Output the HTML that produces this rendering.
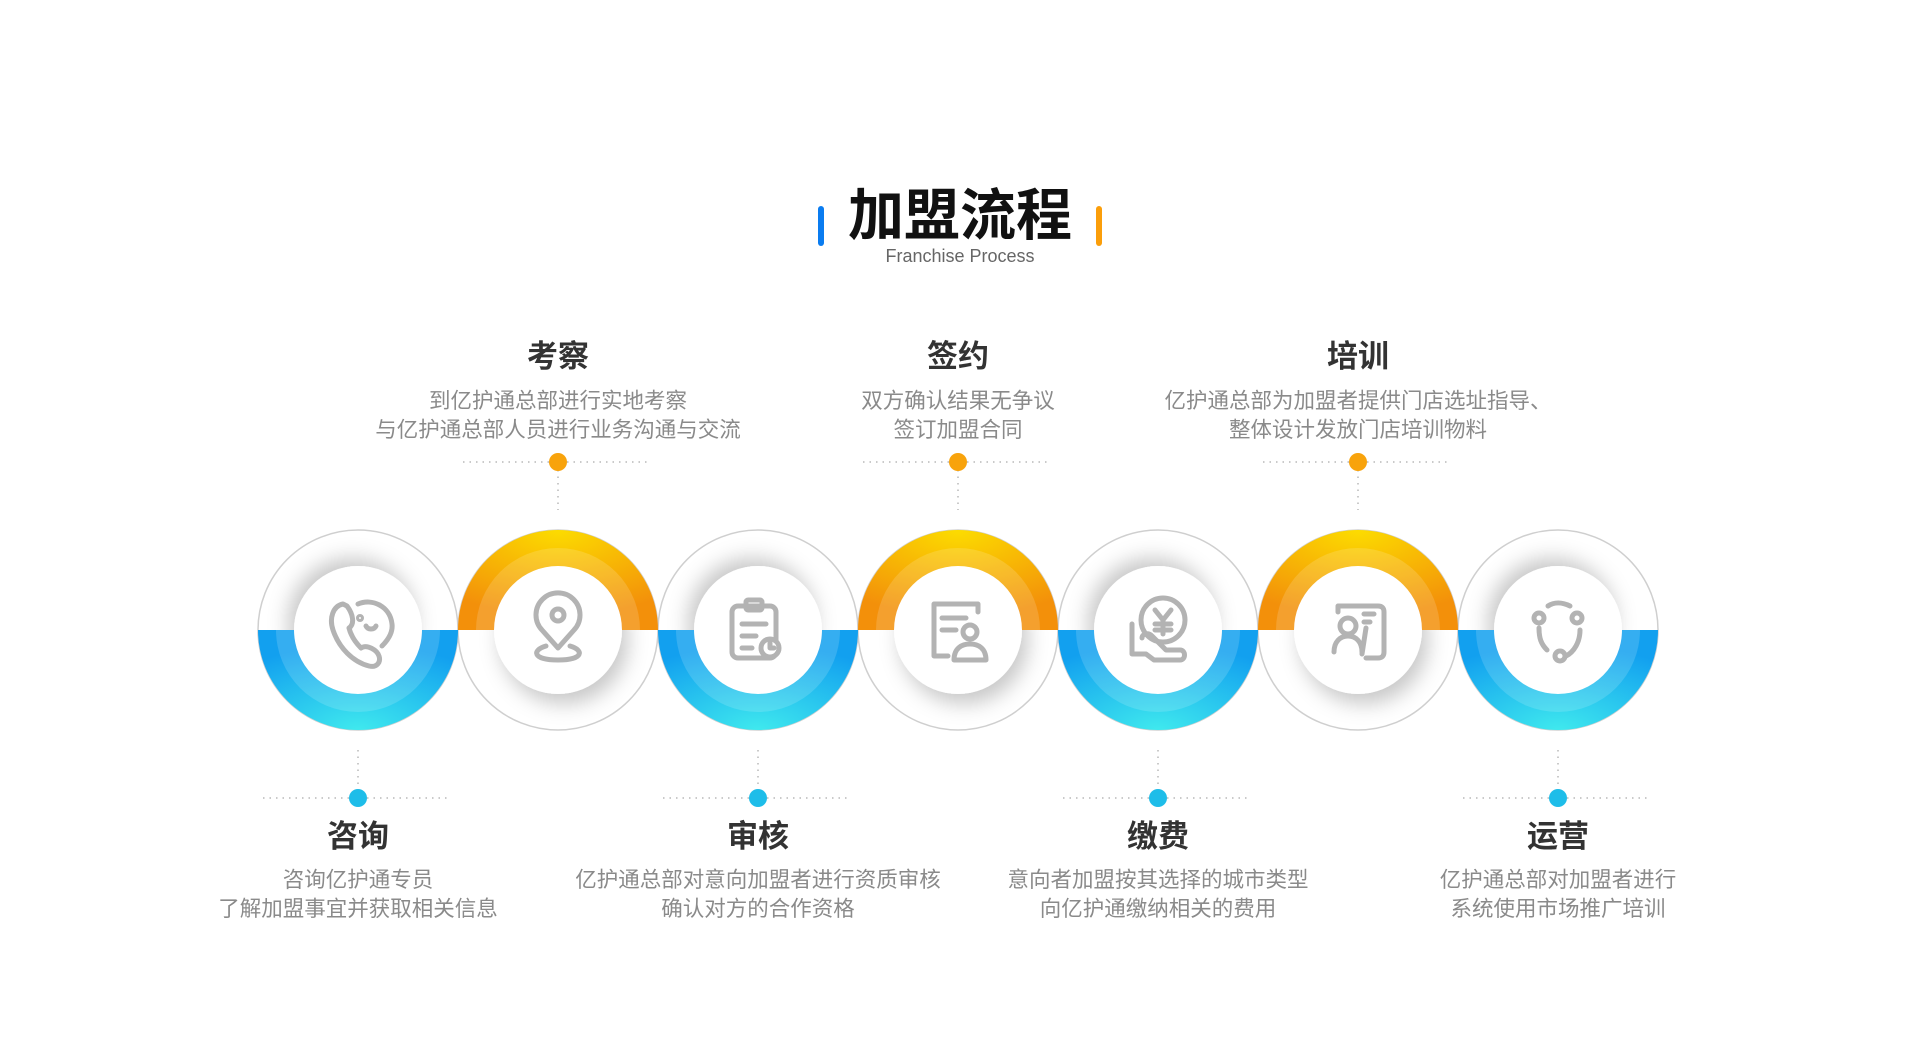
<!DOCTYPE html>
<html><head><meta charset="utf-8"><style>
html,body{margin:0;padding:0;background:#fff;width:1920px;height:1039px;overflow:hidden}
svg{display:block}
text{font-family:"Liberation Sans","Noto Sans CJK SC",sans-serif}
</style></head><body>
<svg width="1920" height="1039" viewBox="0 0 1920 1039">
<defs>
<radialGradient id="gb" cx="0.5" cy="1" r="0.85"><stop offset="0" stop-color="#3fe9ee"/><stop offset="1" stop-color="#12a0ef"/></radialGradient>
<radialGradient id="go" cx="0.5" cy="0" r="0.85"><stop offset="0" stop-color="#fcdc00"/><stop offset="1" stop-color="#f3900a"/></radialGradient>
<filter id="sb" x="-50%" y="-50%" width="200%" height="200%"><feDropShadow dx="-6" dy="-8" stdDeviation="10" flood-color="#000" flood-opacity="0.22"/></filter>
<filter id="so" x="-50%" y="-50%" width="200%" height="200%"><feDropShadow dx="6" dy="10" stdDeviation="10" flood-color="#000" flood-opacity="0.22"/></filter>
<g id="lower"><path d="M-100,0 A100,100 0 0 0 100,0 L64,0 A64,64 0 0 1 -64,0 Z" fill="url(#gb)"/><path d="M-82,0 A82,82 0 0 0 82,0 L64,0 A64,64 0 0 1 -64,0 Z" fill="#fff" opacity="0.15"/></g>
<g id="upper"><path d="M-100,0 A100,100 0 0 1 100,0 L64,0 A64,64 0 0 0 -64,0 Z" fill="url(#go)"/><path d="M-82,0 A82,82 0 0 1 82,0 L64,0 A64,64 0 0 0 -64,0 Z" fill="#fff" opacity="0.15"/></g>
</defs>
<rect x="818" y="206" width="6" height="40" rx="3" fill="#0a7cf0"/>
<rect x="1096" y="206" width="6" height="40" rx="3" fill="#fb9e0a"/>
<text x="960" y="235" font-size="56" font-weight="bold" text-anchor="middle" fill="#111">加盟流程</text>
<text x="960" y="262" font-size="18" text-anchor="middle" fill="#666">Franchise Process</text>

<g stroke="#cfcfcf" stroke-width="1.5" fill="#fff">
<circle cx="358" cy="630" r="100"/><circle cx="558" cy="630" r="100"/><circle cx="758" cy="630" r="100"/><circle cx="958" cy="630" r="100"/><circle cx="1158" cy="630" r="100"/><circle cx="1358" cy="630" r="100"/><circle cx="1558" cy="630" r="100"/>
</g>
<g fill="#fff">
<circle cx="358" cy="630" r="64" filter="url(#sb)"/><circle cx="758" cy="630" r="64" filter="url(#sb)"/><circle cx="1158" cy="630" r="64" filter="url(#sb)"/><circle cx="1558" cy="630" r="64" filter="url(#sb)"/>
<circle cx="558" cy="630" r="64" filter="url(#so)"/><circle cx="958" cy="630" r="64" filter="url(#so)"/><circle cx="1358" cy="630" r="64" filter="url(#so)"/>
</g>
<use href="#lower" x="358" y="630"/><use href="#lower" x="758" y="630"/><use href="#lower" x="1158" y="630"/><use href="#lower" x="1558" y="630"/>
<use href="#upper" x="558" y="630"/><use href="#upper" x="958" y="630"/><use href="#upper" x="1358" y="630"/>

<g fill="none" stroke="#b3b3b3" stroke-width="5" stroke-linecap="round" stroke-linejoin="round">
<path d="M343,604 c-10,2 -14,14 -10,26 c6,18 20,32 36,36 c8,2 12,-4 10,-10 c-2,-6 -12,-12 -18,-8 c-6,-6 -10,-12 -12,-20 c6,-4 4,-14 -2,-22 z"/>
<path d="M358,604 c14,-6 32,2 34,20 c1,8 -4,16 -10,22"/><circle cx="360" cy="618" r="1.5"/><path d="M366,626 c2,4 8,4 10,0"/>
<path d="M558,648 l-16,-18 a22,22 0 1 1 32,0 z"/><circle cx="558" cy="615" r="6"/><path d="M546,646 c-14,4 -14,14 12,14 c26,0 26,-10 12,-14"/>
<rect x="732" y="606" width="44" height="52" rx="6"/><rect x="746" y="600" width="16" height="10" rx="2"/><path d="M742,624 h24 M742,636 h14 M742,648 h10"/><circle cx="770" cy="648" r="9" fill="#fff"/><path d="M770,643 v5 h4"/>
<path d="M978,612 v-8 h-44 v52 h14"/><path d="M942,618 h24 M942,630 h14"/><circle cx="970" cy="632" r="7"/><path d="M954,660 c0,-12 8,-16 16,-16 c8,0 16,4 16,16 z"/>
<circle cx="1163" cy="620" r="22"/><path d="M1155,610 l8,10 l8,-10 M1163,620 v14 M1155,624 h16 M1155,630 h16"/><path d="M1132,624 v30 h14 l8,6 h26 c6,0 6,-10 0,-10 h-14 l-14,-14 c-4,-4 -10,-2 -10,2"/>
<path d="M1338,612 v-6 h40 c4,0 6,2 6,6 v40 c0,4 -2,6 -6,6 h-12"/><path d="M1364,614 h10 M1364,622 h6"/><circle cx="1348" cy="626" r="8"/><path d="M1334,652 c0,-10 6,-16 14,-16 c8,0 14,6 14,16"/><path d="M1366,628 l-4,26"/>
<circle cx="1539" cy="618" r="5"/><circle cx="1577" cy="618" r="5"/><circle cx="1560" cy="656" r="5"/><path d="M1548,606 c6,-4 14,-4 22,0"/><path d="M1539,628 c0,10 2,16 8,22"/><path d="M1580,630 c0,12 -6,22 -14,26"/>
</g>

<g stroke="#b8b8b8" stroke-width="1.5" stroke-dasharray="1.5 5" fill="none">
<path d="M463,462 h186 M863,462 h186 M1263,462 h186"/>
<path d="M558,470 v40 M958,470 v40 M1358,470 v40"/>
<path d="M263,798 h186 M663,798 h186 M1063,798 h186 M1463,798 h186"/>
<path d="M358,750 v40 M758,750 v40 M1158,750 v40 M1558,750 v40"/>
</g>
<g fill="#f8a30c"><circle cx="558" cy="462" r="9"/><circle cx="958" cy="462" r="9"/><circle cx="1358" cy="462" r="9"/></g>
<g fill="#1ebde9"><circle cx="358" cy="798" r="9"/><circle cx="758" cy="798" r="9"/><circle cx="1158" cy="798" r="9"/><circle cx="1558" cy="798" r="9"/></g>

<g text-anchor="middle">
<g font-size="31" font-weight="bold" fill="#333">
<text x="558" y="367">考察</text><text x="958" y="367">签约</text><text x="1358" y="367">培训</text>
<text x="358" y="847">咨询</text><text x="758" y="847">审核</text><text x="1158" y="847">缴费</text><text x="1558" y="847">运营</text>
</g>
<g font-size="21.5" fill="#8a8a8a">
<text x="558" y="408">到亿护通总部进行实地考察</text><text x="558" y="437">与亿护通总部人员进行业务沟通与交流</text>
<text x="958" y="408">双方确认结果无争议</text><text x="958" y="437">签订加盟合同</text>
<text x="1358" y="408">亿护通总部为加盟者提供门店选址指导、</text><text x="1358" y="437">整体设计发放门店培训物料</text>
<text x="358" y="887">咨询亿护通专员</text><text x="358" y="916">了解加盟事宜并获取相关信息</text>
<text x="758" y="887">亿护通总部对意向加盟者进行资质审核</text><text x="758" y="916">确认对方的合作资格</text>
<text x="1158" y="887">意向者加盟按其选择的城市类型</text><text x="1158" y="916">向亿护通缴纳相关的费用</text>
<text x="1558" y="887">亿护通总部对加盟者进行</text><text x="1558" y="916">系统使用市场推广培训</text>
</g>
</g>
</svg>
</body></html>
